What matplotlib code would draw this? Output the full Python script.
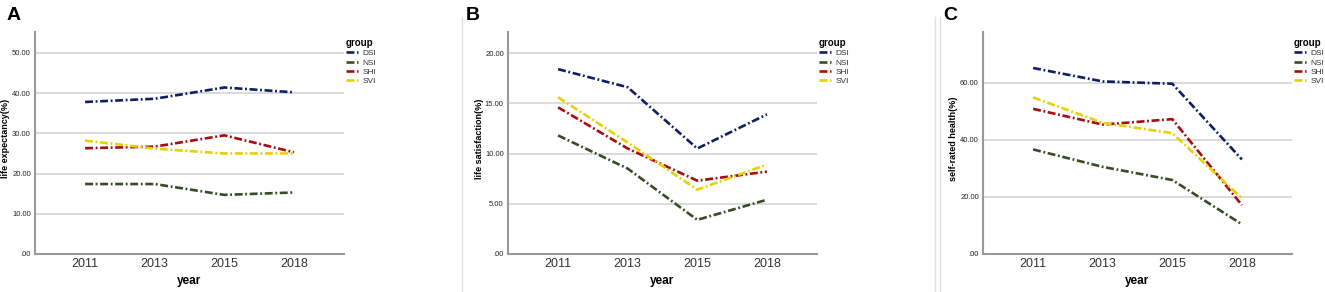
import matplotlib
matplotlib.use("Agg")
import matplotlib.pyplot as plt
from matplotlib.lines import Line2D

plt.rcParams["font.family"] = ["Liberation Sans", "DejaVu Sans"]

years = ["2011", "2013", "2015", "2018"]
groups = ["DSI", "NSI", "SHI", "SVI"]
colors = ["#0f1f63", "#3b4a26", "#a80d0d", "#e6d200"]

# panel A: life expectancy(%)
a_dsi = [37.8, 38.6, 41.4, 40.2]
a_nsi = [17.4, 17.4, 14.7, 15.3]
a_shi = [26.3, 26.7, 29.5, 25.3]
a_svi = [28.2, 26.2, 25.0, 25.0]

# panel B: life satisfaction(%)
b_dsi = [18.4, 16.6, 10.5, 13.9]
b_nsi = [11.8, 8.5, 3.4, 5.4]
b_shi = [14.6, 10.5, 7.3, 8.2]
b_svi = [15.6, 11.1, 6.4, 8.9]

# panel C: self-rated health(%)
c_dsi = [65.1, 60.4, 59.6, 33.1]
c_nsi = [36.6, 30.5, 25.9, 10.4]
c_shi = [50.8, 45.3, 47.2, 17.1]
c_svi = [54.8, 45.9, 42.3, 19.5]

W, H = 1325, 292
# letter, ylabel, data, yticks, ytop, axes left px, letter x px
panels = [
    ("A", "life expectancy(%)", [a_dsi, a_nsi, a_shi, a_svi], [0, 10, 20, 30, 40, 50], 55.2, 35, 7),
    ("B", "life satisfaction(%)", [b_dsi, b_nsi, b_shi, b_svi], [0, 5, 10, 15, 20], 22.1, 508, 466),
    ("C", "self-rated health(%)", [c_dsi, c_nsi, c_shi, c_svi], [0, 20, 40, 60], 77.7, 983, 943),
]

fig = plt.figure(figsize=(W / 100, H / 100), dpi=100, facecolor="white")
DASH = (3.0, 1.0, 0.7, 1.0)
AX_W, AX_TOP, AX_BOT = 309, 32, 254

for letter, ylabel, series, yticks, ytop, left, lx in panels:
    ax = fig.add_axes([left / W, 1 - AX_BOT / H, AX_W / W, (AX_BOT - AX_TOP) / H])
    x = range(len(years))
    for vals, col, name in zip(series, colors, groups):
        ax.plot(x, vals, color=col, linewidth=1.9, dashes=DASH, label=name)
    ax.set_xlim(-0.72, 3.72)
    ax.set_ylim(0, ytop)
    ax.set_xticks(list(x))
    ax.set_xticklabels(years, fontsize=9, color="#333333")
    ax.set_yticks(yticks)
    ax.set_yticklabels([".00" if v == 0 else f"{v:.2f}" for v in yticks],
                       fontsize=5.5, color="#222222")
    ax.tick_params(length=0, pad=3)
    ax.grid(axis="y", color="#d4d4d4", linewidth=1.2)
    ax.set_axisbelow(True)
    for s in ("top", "right"):
        ax.spines[s].set_visible(False)
    for s in ("left", "bottom"):
        ax.spines[s].set_color("#999999")
        ax.spines[s].set_linewidth(1.5)
    ax.set_xlabel("year", fontsize=8.5, fontweight="bold", va="center")
    ax.xaxis.set_label_coords(0.5, -(281 - AX_BOT) / (AX_BOT - AX_TOP))
    ax.set_ylabel(ylabel, fontsize=6.5, fontweight="bold", va="center")
    ax.yaxis.set_label_coords(-29 / AX_W, 0.52)
    leg = ax.legend(title="group", loc="upper left", bbox_to_anchor=(1.0, 0.98),
                    frameon=False, fontsize=6, title_fontsize=7,
                    handlelength=1.5, handletextpad=0.5, labelspacing=0.17,
                    borderaxespad=0.0, borderpad=0.2)
    leg.get_title().set_fontweight("bold")
    for t in leg.get_texts():
        t.set_color("#333333")
    leg._legend_box.align = "left"
    fig.text(lx / W, 1 - 7 / H, letter, fontsize=14, fontweight="bold",
             ha="left", va="top")

# light separators between panels
for xs in (462, 935, 940):
    fig.add_artist(Line2D([xs / W, xs / W], [0.0, 1 - 17 / H], transform=fig.transFigure,
                          color="#e0e0e0", linewidth=1.0))

fig.savefig("out.png", dpi=100, facecolor="white")
